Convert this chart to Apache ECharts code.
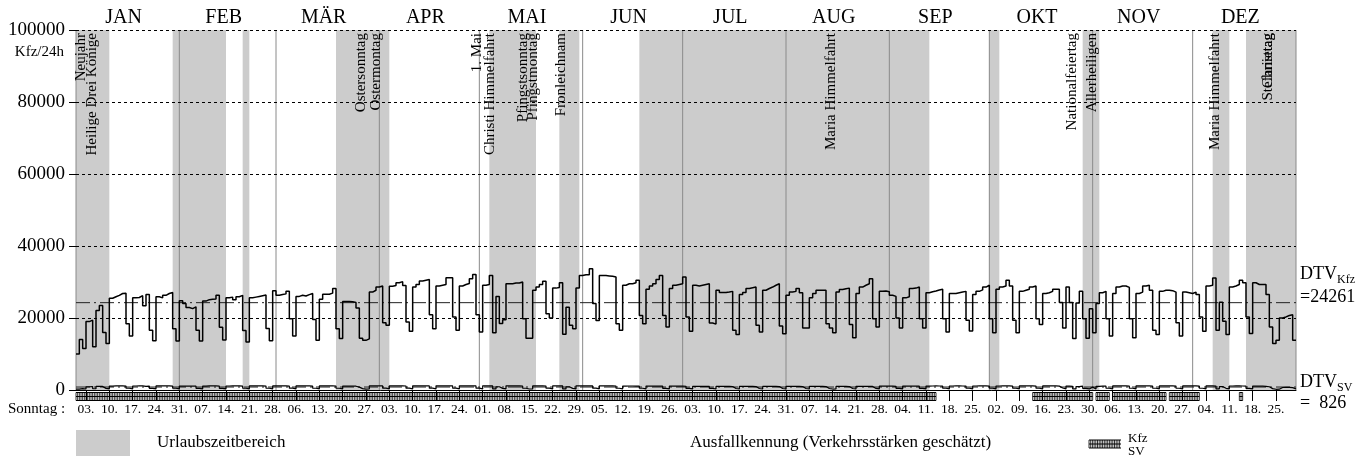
<!DOCTYPE html>
<html><head><meta charset="utf-8">
<script src="https://cdn.jsdelivr.net/npm/echarts@6/dist/echarts.min.js"></script>
<style>html,body{margin:0;padding:0;background:#fff}#c{width:1371px;height:459px}</style>
</head><body><div id="c"></div>
<script>
// ---------- DATA ----------
const months = ['JAN','FEB','MÄR','APR','MAI','JUN','JUL','AUG','SEP','OKT','NOV','DEZ'];
const monthDays = [31,29,31,30,31,30,31,31,30,31,30,31];

const kfzJan = [10000,14000,11500,19000,19400,12000,22100,23500,16000,12900,25500,25900,26300,26800,26900,18400,15000,25600,25700,26200,23400,26500,16600,13700,25900,25600,26300,26800,27100,17000,13600];
const kfzFeb = [24800,24000,22900,22600,23100,16600,13600,24700,25100,25200,25300,26300,17400,13900,25600,25800,25100,25900,26300,16500,13300,25600,25800,26000,26200,26400,17100,13700,27600];
const kfzMar = [26300,26500,26700,27400,19800,15000,26000,26300,26100,26500,26800,19600,13800,25200,26600,26600,26900,28200,17000,14300,24600,24600,24500,24300,22800,14400,13800,14200,27200,27700,28600];
const kfzApr = [28900,18700,18000,28800,29000,29800,30100,29000,18900,16300,28600,29300,30300,30500,30700,20900,17000,28900,29100,29300,31200,31200,20300,16600,28900,29300,29600,30900,32100,20900];
const kfzMay = [16100,29100,29300,31800,15900,26000,18500,19500,29500,29500,29700,29700,30000,19800,14400,14400,27700,28600,29300,30200,21200,20000,28300,28500,29800,15500,23000,18000,17000,28300,31800];
const kfzJun = [32000,32000,33700,24000,19300,31800,31800,31700,31600,31400,18400,16600,29100,29500,29500,29800,30500,20700,18400,28000,28900,29500,30700,31800,20700,17500,28200,29100,29300,29500];
const kfzJul = [31400,20300,16300,29100,28900,29100,29300,29500,18600,18300,27700,27100,27100,27200,27400,16600,15400,26500,27100,28200,28400,28600,18000,16100,27700,28200,28600,29100,29500,17800,15600];
const kfzAug = [26300,27200,27400,28200,27000,17200,17200,25600,26800,27700,27700,27700,18400,17200,15900,27200,27900,28100,28300,18200,14500,26800,28600,29100,29500,30900,19800,17500,27400,27500,27300];
const kfzSep = [26300,26000,20000,17200,25600,25900,28200,28300,28600,19800,17200,27000,27300,27500,27800,28000,19800,16100,26800,26800,27000,27200,27400,19400,16400,26500,27400,27800,28600,29100];
const kfzOct = [19800,15900,28000,28600,28900,30500,28900,19400,15900,27400,27700,28000,28600,28900,19800,18200,26800,27000,27400,28000,28000,24300,17200,28600,24300,14300,24200,27400,19800,14400,22600];
const kfzNov = [15900,24000,27000,27400,19800,15000,26800,28600,28900,28900,28500,19800,14500,26800,27200,28900,29100,27700,16600,15400,27400,27700,27700,27600,27200,18700,15000,27200,27000,26800];
const kfzDec = [27200,26500,20300,16300,28900,29100,31100,16600,24400,19100,15400,28600,28900,29300,30500,29800,20300,15700,29800,29300,29300,29300,26500,17500,12900,13800,20000,20300,20700,20900,13800];

const svJan = [250,400,280,900,950,350,1000,1000,450,300,1100,1120,1130,1120,1080,480,300,1110,1130,1140,1000,1090,470,290,1120,1130,1140,1130,1090,480,300];
const svFeb = [1080,1100,1090,1100,1050,460,290,1100,1120,1130,1120,1080,470,300,1110,1130,1120,1130,1090,480,290,1120,1140,1130,1140,1100,480,300,1130];
const svMar = [1140,1150,1140,1100,500,300,1130,1150,1150,1140,1100,490,300,1140,1150,1160,1150,1110,480,290,1100,1110,1100,1050,800,380,260,300,1150,1160,1150];
const svApr = [1120,500,300,1150,1160,1160,1150,1110,500,310,1160,1170,1170,1160,1120,510,310,1160,1170,1180,1170,1130,500,300,1160,1170,1180,1170,1120,510];
const svMay = [290,1150,1160,1140,300,900,460,320,1160,1170,1170,1160,1110,480,280,290,1140,1160,1150,1110,500,310,1150,1160,1120,300,900,450,300,1150,1160];
const svJun = [1160,1150,1120,520,320,1150,1160,1160,1150,1110,490,300,1100,1110,1110,1100,1060,480,300,1080,1090,1100,1090,1060,470,300,1070,1080,1080,1070];
const svJul = [1040,450,290,1020,1030,1030,1020,990,430,280,1000,1010,1010,1000,970,420,270,990,1000,1000,990,960,420,270,990,1000,1000,990,960,410,270];
const svAug = [980,990,990,980,950,410,270,980,990,990,980,950,410,270,300,990,1000,990,960,420,270,1010,1020,1030,1020,990,440,290,1050,1060,1060];
const svSep = [1060,1030,460,290,1090,1100,1110,1100,1060,470,300,1100,1110,1120,1110,1070,480,300,1110,1120,1120,1110,1080,480,300,1110,1120,1130,1120,1080];
const svOct = [480,300,1110,1120,1130,1120,1080,480,300,1120,1130,1130,1120,1080,490,300,1120,1130,1130,1120,1080,560,300,1100,1000,300,950,1050,460,290,800];
const svNov = [300,1000,1080,1070,480,300,1120,1130,1140,1130,1080,490,300,1130,1140,1140,1130,1090,490,300,1130,1140,1140,1130,1090,490,300,1130,1140,1140];
const svDec = [1130,1090,480,300,1120,1130,1100,320,950,470,290,1110,1120,1120,1110,1060,470,290,1080,1070,1050,1000,900,380,200,220,700,750,720,650,300];

const sundayLabels = ['03.','10.','17.','24.','31.','07.','14.','21.','28.','06.','13.','20.','27.','03.','10.','17.','24.','01.','08.','15.','22.','29.','05.','12.','19.','26.','03.','10.','17.','24.','31.','07.','14.','21.','28.','04.','11.','18.','25.','02.','09.','16.','23.','30.','06.','13.','20.','27.','04.','11.','18.','25.'];
const firstSunday = 2; // day index of 03. JAN

const holidayNames = ['Neujahr','Heilige Drei Könige','Ostersonntag','Ostermontag','1. Mai','Christi Himmelfahrt','Pfingstsonntag','Pfingstmontag','Fronleichnam','Maria Himmelfahrt','Nationalfeiertag','Allerheiligen','Maria Himmelfahrt','Christtag','Stefanietag'];
const holidayDays  = [0,5,86,87,121,125,135,136,146,227,299,305,342,359,360];

const vacationStart = [0,29,50,78,124,145,169,274,302,341,351];
const vacationEnd   = [9,44,51,93,137,150,255,276,306,345,365];

const estStart = [0,287,306,311,328,349];
const estEnd   = [257,304,309,326,336,349];

const dtvKfz = 24261;
const dtvSv = 826;

// ---------- STYLE ----------
const FONT = '"Liberation Serif","Times New Roman",serif';
const holidayOffset = [3,-2,-3,8,-4,-4,-5,2,-3,-3,-2,-2,-3,-6,-10];

// ---------- BUILD ----------
const kfz = [].concat(kfzJan,kfzFeb,kfzMar,kfzApr,kfzMay,kfzJun,kfzJul,kfzAug,kfzSep,kfzOct,kfzNov,kfzDec);
const sv  = [].concat(svJan,svFeb,svMar,svApr,svMay,svJun,svJul,svAug,svSep,svOct,svNov,svDec);
const nDays = kfz.length;
const kfzData = kfz.map((v,i)=>[i,v]); kfzData.push([nDays, kfz[nDays-1]]);
const svData = sv.map((v,i)=>[i,v]); svData.push([nDays, sv[nDays-1]]);

const monthStarts = []; let acc = 0;
monthDays.forEach(d=>{ monthStarts.push(acc); acc += d; });
const monthLineDays = monthStarts.concat([acc]);

const sundayTicks = sundayLabels.map((_,i)=>firstSunday + 7*i + 1);

const chart = echarts.init(document.getElementById('c'), null, {renderer:'canvas'});
chart.setOption({
  animation:false,
  backgroundColor:'#fff',
  grid:{left:76,right:75,top:30,bottom:69,containLabel:false},
  xAxis:{type:'value',min:0,max:nDays,z:6,
    axisLine:{show:true,lineStyle:{color:'#000',width:1}},
    axisTick:{show:true,length:11,customValues:sundayTicks,lineStyle:{color:'#000',width:1}},
    axisLabel:{show:true,customValues:sundayTicks,margin:12,color:'#000',fontFamily:FONT,fontSize:13.5,
      formatter:v=>{const i=Math.round((v-firstSunday-1)/7);return sundayLabels[i]||'';}},
    splitLine:{show:false}
  },
  yAxis:{type:'value',min:0,max:100000,interval:20000,z:4,
    axisLine:{show:false},
    axisTick:{show:true,length:7,lineStyle:{color:'#000'}},
    axisLabel:{color:'#000',fontFamily:FONT,fontSize:19,margin:11,formatter:v=>String(v)},
    splitLine:{show:true,lineStyle:{color:'#000',type:[3,3],width:1}}
  },
  series:[
    {type:'custom',z:1,clip:false,silent:true,
     data:vacationStart.map((s,i)=>[s,vacationEnd[i]]),
     renderItem:(p,api)=>{const s=api.value(0),e=api.value(1);const a=api.coord([s,100000]);const b=api.coord([e+1,0]);
       return {type:'rect',shape:{x:a[0],y:a[1],width:b[0]-a[0],height:b[1]-a[1]},style:{fill:'#cccccc'}};}},
    {type:'custom',z:2,clip:false,silent:true,
     data:monthLineDays.map(d=>[d]),
     renderItem:(p,api)=>{const d=api.value(0);const a=api.coord([d,100000]);const b=api.coord([d,0]);
       return {type:'line',shape:{x1:a[0],y1:a[1],x2:b[0],y2:b[1]},style:{stroke:'#8a8a8a',lineWidth:1}};}},
    {type:'custom',z:7,clip:false,silent:true,
     data:monthStarts.map((s,i)=>[s,monthDays[i],i]),
     renderItem:(p,api)=>{const s=api.value(0),l=api.value(1);const a=api.coord([s+l/2,100000]);
       return {type:'text',x:a[0]-4,y:a[1]-12,style:{text:months[p.dataIndex],font:'20px '+FONT,fill:'#000',align:'center',verticalAlign:'middle'}};}},
    {type:'custom',z:7,clip:false,silent:true,
     data:holidayDays.map(d=>[d]),
     renderItem:(p,api)=>{const d=api.value(0);const a=api.coord([d+0.5,100000]);
       return {type:'text',x:a[0]+holidayOffset[p.dataIndex],y:a[1]+3,rotation:Math.PI/2,
         style:{text:holidayNames[p.dataIndex],font:'15px '+FONT,fill:'#000',align:'right',verticalAlign:'middle'}};}},
    {type:'custom',z:6,clip:false,silent:true,
     data:estStart.map((s,i)=>[s,estEnd[i]]),
     renderItem:(p,api)=>{const s=api.value(0),e=api.value(1);const a=api.coord([s,0]);const b=api.coord([e+1,0]);
       const y0=a[1];const ys=[y0+2.5,y0+6.5,y0+10.5];const ch=[];
       ys.forEach(y=>ch.push({type:'line',shape:{x1:a[0],y1:y,x2:b[0],y2:y},style:{stroke:'#000',lineWidth:1}}));
       for(let d=s;d<=e+1.001;d+=0.5){const x=api.coord([d,0])[0];ch.push({type:'line',shape:{x1:x,y1:ys[0],x2:x,y2:ys[2]},style:{stroke:'#000',lineWidth:0.8}});}
       return {type:'group',children:ch};}},
    {type:'line',name:'DTVKfz',z:3,silent:true,showSymbol:false,data:[[0,dtvKfz],[nDays,dtvKfz]],
     lineStyle:{color:'#222',width:1,type:[14,4,2,4]}},
    {type:'line',name:'DTVSV',z:3,silent:true,showSymbol:false,data:[[0,dtvSv],[nDays,dtvSv]],
     lineStyle:{color:'#222',width:1,type:[14,4,2,4]}},
    {type:'line',name:'Kfz',z:5,silent:true,step:'end',showSymbol:false,data:kfzData,
     lineStyle:{color:'#000',width:1.5}},
    {type:'line',name:'SV',z:5,silent:true,step:'end',showSymbol:false,data:svData,
     lineStyle:{color:'#000',width:1.2}}
  ],
  graphic:[
    {type:'text',x:64,y:52,style:{text:'Kfz/24h',font:'15px '+FONT,fill:'#000',align:'right',verticalAlign:'middle'}},
    {type:'text',x:8,y:409,style:{text:'Sonntag :',font:'15px '+FONT,fill:'#000',align:'left',verticalAlign:'middle'}},
    {type:'text',x:1300,y:274,style:{text:'DTV',font:'18px '+FONT,fill:'#000',verticalAlign:'middle'}},
    {type:'text',x:1337,y:280,style:{text:'Kfz',font:'12px '+FONT,fill:'#000',verticalAlign:'middle'}},
    {type:'text',x:1300,y:297,style:{text:'=24261',font:'18px '+FONT,fill:'#000',verticalAlign:'middle'}},
    {type:'text',x:1300,y:382,style:{text:'DTV',font:'18px '+FONT,fill:'#000',verticalAlign:'middle'}},
    {type:'text',x:1337,y:388,style:{text:'SV',font:'12px '+FONT,fill:'#000',verticalAlign:'middle'}},
    {type:'text',x:1300,y:403,style:{text:'=  826',font:'18px '+FONT,fill:'#000',verticalAlign:'middle'}},
    {type:'rect',shape:{x:76,y:430,width:54,height:26},style:{fill:'#cccccc'}},
    {type:'text',x:157,y:443,style:{text:'Urlaubszeitbereich',font:'17px '+FONT,fill:'#000',verticalAlign:'middle'}},
    {type:'text',x:690,y:443,style:{text:'Ausfallkennung (Verkehrsstärken geschätzt)',font:'17px '+FONT,fill:'#000',verticalAlign:'middle'}},
    {type:'group',x:1089,y:440,children:(function(){const c=[];
       [0,4,8].forEach(y=>c.push({type:'line',shape:{x1:0,y1:y,x2:32,y2:y},style:{stroke:'#000',lineWidth:1}}));
       for(let x=0;x<=32;x+=1.7){c.push({type:'line',shape:{x1:x,y1:0,x2:x,y2:8},style:{stroke:'#000',lineWidth:0.8}});}
       return c;})()},
    {type:'text',x:1128,y:439,style:{text:'Kfz',font:'13px '+FONT,fill:'#000',verticalAlign:'middle'}},
    {type:'text',x:1128,y:452,style:{text:'SV',font:'13px '+FONT,fill:'#000',verticalAlign:'middle'}}
  ]
});
</script></body></html>
